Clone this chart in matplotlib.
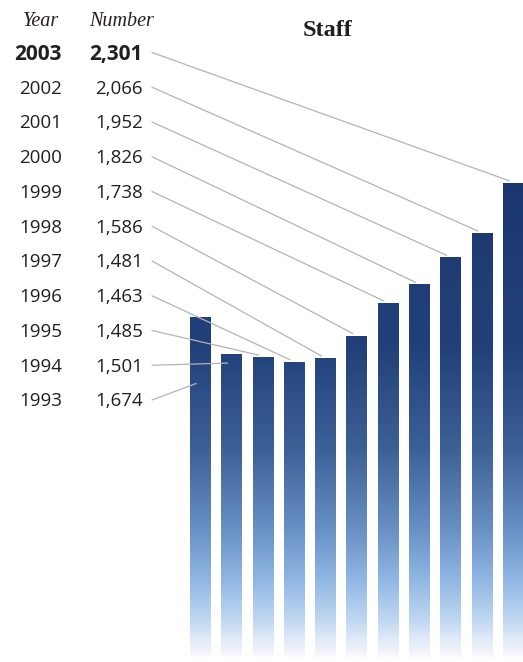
import numpy as np
import matplotlib
matplotlib.use("Agg")
import matplotlib.pyplot as plt
from matplotlib.colors import LinearSegmentedColormap, Normalize

years = [1993, 1994, 1995, 1996, 1997, 1998, 1999, 2000, 2001, 2002, 2003]
staff = [1674, 1501, 1485, 1463, 1481, 1586, 1738, 1826, 1952, 2066, 2301]
title = "Staff"
header_year = "Year"
header_number = "Number"

W, H = 523, 662
sans = ["Open Sans", "DejaVu Sans"]
serif = ["Liberation Serif", "DejaVu Serif"]
line_col = "#b4b4b4"
ink = "#231f20"

# gradient down the bars: navy at the top, light blue, white at the foot
grad = LinearSegmentedColormap.from_list("staff", [
    (0.0, "#ffffff"),
    (70 / 2400, "#ffffff"),
    (100 / 2400, "#f3f3fa"),
    (164 / 2400, "#e0eaf8"),
    (257 / 2400, "#bed6f1"),
    (445 / 2400, "#8fb6e3"),
    (679 / 2400, "#6890c4"),
    (1053 / 2400, "#3d6097"),
    (1521 / 2400, "#22417a"),
    (1.0, "#1b356e"),
])


def fig_xy(px, py):
    # pixel position measured from the top-left corner -> figure fraction
    return px / W, 1 - py / H


fig = plt.figure(figsize=(W / 100, H / 100), dpi=100)
ax = fig.add_axes([0, 0, 1, 1])
ax.set_xlim(-6.39, 10.32)
ax.set_ylim(61, 3159)
ax.axis("off")

x = np.arange(len(years))
bars = ax.bar(x, staff, width=0.64, color="none", edgecolor="none")
col = np.linspace(0, 2400, 600).reshape(-1, 1)
for rect in bars:
    x0, w, h = rect.get_x(), rect.get_width(), rect.get_height()
    n = int(600 * h / 2400)
    ax.imshow(col[:n], cmap=grad, norm=Normalize(0, 2400), origin="lower",
              extent=(x0, x0 + w, 0, h), aspect="auto", interpolation="bilinear",
              zorder=2)

# header and title
fx, fy = fig_xy(59, 26)
fig.text(fx, fy, header_year, family=serif, style="italic", fontsize=14.5,
         ha="right", va="baseline", color=ink)
fx, fy = fig_xy(154, 26)
fig.text(fx, fy, header_number, family=serif, style="italic", fontsize=14.5,
         ha="right", va="baseline", color=ink)
fx, fy = fig_xy(328, 36)
fig.text(fx, fy, title, family=serif, weight="bold", fontsize=17.5,
         ha="center", va="baseline", color=ink)

# labels with leader lines, newest year on top
to_data = ax.transData.inverted()
for k, i in enumerate(range(len(years) - 1, -1, -1)):
    py = 52.5 + 34.75 * k
    bold = k == 0
    size = 15 if bold else 13.5
    wt = "bold" if bold else "normal"
    base = py + (7.5 if bold else 6.5)
    fx, fy = fig_xy(62, base)
    fig.text(fx, fy, str(years[i]), family=sans, fontsize=size, weight=wt,
             ha="right", va="baseline", color=ink)
    fx, fy = fig_xy(143, base)
    fig.text(fx, fy, f"{staff[i]:,}", family=sans, fontsize=size, weight=wt,
             ha="right", va="baseline", color=ink)

    sx, sy = fig_xy(152, py)
    ly = to_data.transform(fig.transFigure.transform((sx, sy)))[1]
    if ly > staff[i]:
        ey = staff[i] + 12
    else:
        ey = ly + (staff[i] - ly) * 0.2
    ax.annotate("", xy=(x[i] - 0.12, ey), xycoords="data",
                xytext=(sx, sy), textcoords="figure fraction",
                arrowprops=dict(arrowstyle="-", color=line_col, lw=0.9,
                                shrinkA=0, shrinkB=0), zorder=3)

fig.savefig("out.png", dpi=100)
